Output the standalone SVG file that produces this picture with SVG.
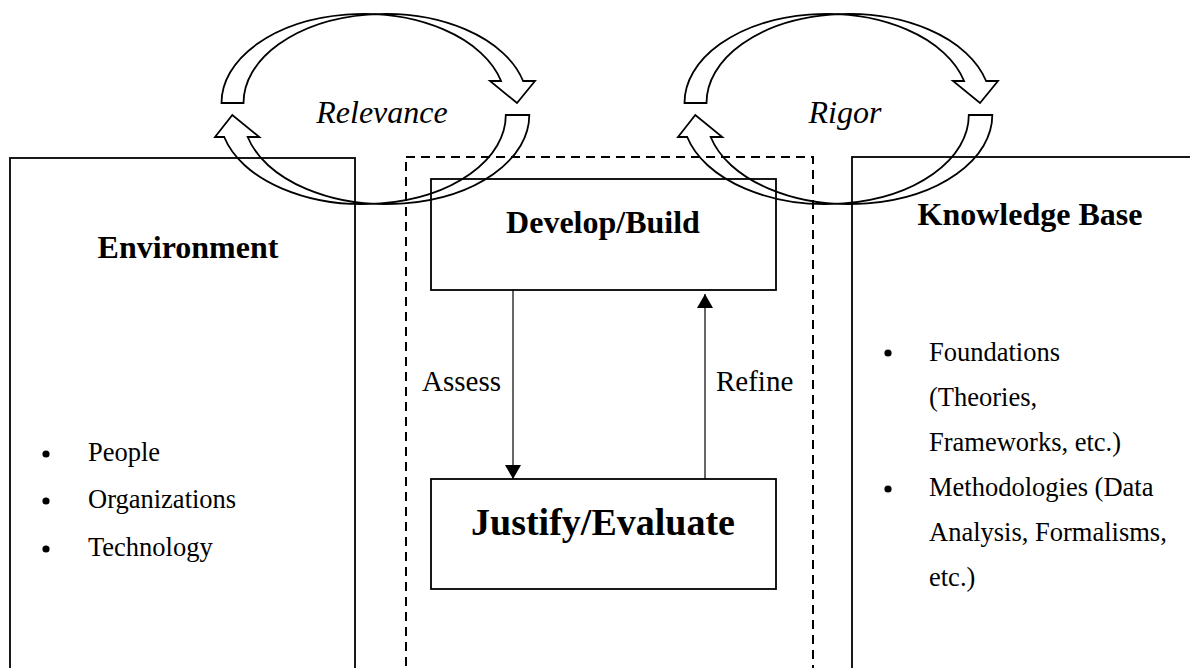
<svg xmlns="http://www.w3.org/2000/svg" width="1190" height="668" viewBox="0 0 1190 668">
  <style>
    .box { fill: none; stroke: #000; stroke-width: 1.8; }
    .dash { fill: none; stroke: #000; stroke-width: 2; stroke-dasharray: 9 6; }
    .cyc { fill: none; stroke: #000; stroke-width: 1.8; stroke-linejoin: miter; }
    .conn { fill: none; stroke: #000; stroke-width: 1.2; }
    .title { font-family: "Liberation Serif", "Times New Roman", serif; font-weight: bold; font-size: 32px; fill: #000; }
    .lbl { font-family: "Liberation Serif", "Times New Roman", serif; font-size: 29px; fill: #000; }
    .cyclbl { font-family: "Liberation Serif", "Times New Roman", serif; font-style: italic; font-size: 32px; fill: #000; }
    .item { font-family: "Liberation Serif", "Times New Roman", serif; font-size: 26.5px; fill: #000; }
  </style>
  <defs>
    <marker id="ah" viewBox="0 0 14 16" refX="14" refY="8" markerWidth="14" markerHeight="16" markerUnits="userSpaceOnUse" orient="auto">
      <path d="M0,0 L14,8 L0,16 Z" fill="#000"/>
    </marker>
    <g id="cycle">
      <path class="cyc" d="M221.5,103 A142,89 0 0 1 501.1,81 L490,81 L517,103 L535,81 L523.1,81 A142,89 0 0 0 243.5,103 Z"/>
      <path class="cyc" d="M529.3,115 A143,89 0 0 1 247.7,137 L259.3,137 L232.3,115 L215,137 L224.2,137 A143,89 0 0 0 505.8,115 Z"/>
    </g>
  </defs>

  <g id="environment">
    <rect class="box" x="10" y="158" width="345" height="530"/>
    <text class="title" x="188" y="258" text-anchor="middle">Environment</text>
    <circle cx="46" cy="454" r="3.6"/>
    <text class="item" x="88" y="461">People</text>
    <circle cx="46" cy="501" r="3.6"/>
    <text class="item" x="88" y="508">Organizations</text>
    <circle cx="46" cy="549" r="3.6"/>
    <text class="item" x="88" y="556">Technology</text>
  </g>

  <g id="design-science">
    <rect class="dash" x="406" y="157" width="407" height="530"/>
  </g>

  <g id="develop-build">
    <rect class="box" x="431" y="179" width="345" height="111"/>
    <text class="title" x="603" y="233" text-anchor="middle">Develop/Build</text>
  </g>

  <g id="justify-evaluate">
    <rect class="box" x="431" y="479" width="345" height="110"/>
    <text class="title" x="603" y="535" text-anchor="middle" style="font-size:38px">Justify/Evaluate</text>
  </g>

  <g id="knowledge-base">
    <rect class="box" x="852" y="157" width="360" height="530"/>
    <text class="title" x="1030" y="225" text-anchor="middle">Knowledge Base</text>
    <circle cx="888" cy="353" r="3.6"/>
    <text class="item" x="929" y="361">Foundations</text>
    <text class="item" x="929" y="406">(Theories,</text>
    <text class="item" x="929" y="451">Frameworks, etc.)</text>
    <circle cx="888" cy="489" r="3.6"/>
    <text class="item" x="929" y="496">Methodologies (Data</text>
    <text class="item" x="929" y="541">Analysis, Formalisms,</text>
    <text class="item" x="929" y="586">etc.)</text>
  </g>

  <g id="relevance-cycle">
    <use href="#cycle"/>
    <text class="cyclbl" x="382" y="123" text-anchor="middle">Relevance</text>
  </g>

  <g id="rigor-cycle">
    <use href="#cycle" transform="translate(463,0)"/>
    <text class="cyclbl" x="845" y="123" text-anchor="middle">Rigor</text>
  </g>

  <g id="connectors">
    <line class="conn" x1="513" y1="290" x2="513" y2="479" marker-end="url(#ah)"/>
    <line class="conn" x1="705" y1="479" x2="705" y2="294" marker-end="url(#ah)"/>
    <text class="lbl" x="422" y="391">Assess</text>
    <text class="lbl" x="716" y="391">Refine</text>
  </g>
</svg>
